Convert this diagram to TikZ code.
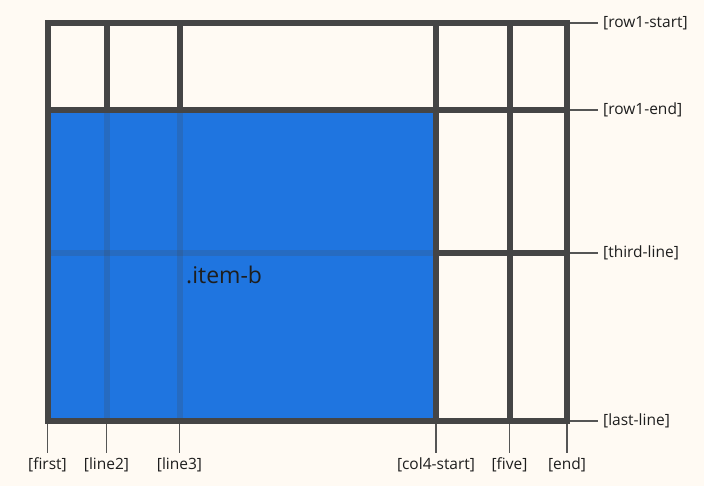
\documentclass[tikz,border=0pt]{standalone}
\usepackage{fontspec}
\setmainfont{Open Sans}
\definecolor{bgc}{HTML}{FFFAF3}
\definecolor{gridc}{HTML}{454545}
\definecolor{tickc}{HTML}{555555}
\definecolor{bluec}{HTML}{1F75E0}
\definecolor{txtc}{HTML}{1E1E1E}
\begin{document}
\begin{tikzpicture}[x=1pt,y=-1pt,
  gridline/.style={draw=gridc,line width=6pt},
  innerline/.style={draw=gridc,line width=6pt,draw opacity=0.2},
  tickline/.style={draw=tickc,line width=1.3pt},
  lbl/.style={text=txtc,font=\fontsize{15.5}{17}\selectfont,inner sep=0pt},
  area/.style={fill=bluec}]
\fill[bgc] (0,0) rectangle (704,486);
\useasboundingbox (0,0) rectangle (704,486);
% coordinates
\coordinate (tl) at (47.5,23);
\coordinate (br) at (567,421);
% vertical lines
\draw[gridline] (106.5,23) -- (106.5,421);
\draw[gridline] (179.5,23) -- (179.5,421);
\draw[gridline] (436,23) -- (436,421);
\draw[gridline] (509.5,23) -- (509.5,421);
% horizontal lines
\draw[gridline] (47.5,110) -- (567,110);
\draw[gridline] (47.5,253) -- (567,253);
% blue area
\fill[area] (50.5,113) rectangle (433,418);
% grid lines seen through the area
\draw[innerline] (106.5,113) -- (106.5,418);
\draw[innerline] (179.5,113) -- (179.5,418);
\draw[innerline] (50.5,253) -- (433,253);
% outer frame
\draw[gridline] (tl) rectangle (br);
% item label
\node[lbl,anchor=base west,font=\fontsize{23}{26}\selectfont] (item) at (186,284) {.item-b};
% right ticks
\coordinate (r1) at (570,23);
\coordinate (r2) at (570,110);
\coordinate (r3) at (570,253);
\coordinate (r4) at (570,421);
\node[lbl,anchor=west] (l1) at (603,23) {[row1-start]};
\node[lbl,anchor=west] (l2) at (603,110) {[row1-end]};
\node[lbl,anchor=west] (l3) at (603,253) {[third-line]};
\node[lbl,anchor=west] (l4) at (603,421) {[last-line]};
\draw[tickline] (r1) -- (598,23);
\draw[tickline] (r2) -- (598,110);
\draw[tickline] (r3) -- (598,253);
\draw[tickline] (r4) -- (598,421);
% bottom ticks
\foreach \x/\n/\t in {47.5/b1/[first],106.5/b2/[line2],179.5/b3/[line3],436/b4/[col4-start],509.5/b5/[five],567/b6/[end]}{
  \coordinate (\n) at (\x,424);
  \draw[tickline] (\n) -- (\x,453);
  \node[lbl,anchor=center] (\n t) at (\x,465) {\t};
}
\end{tikzpicture}
\end{document}
